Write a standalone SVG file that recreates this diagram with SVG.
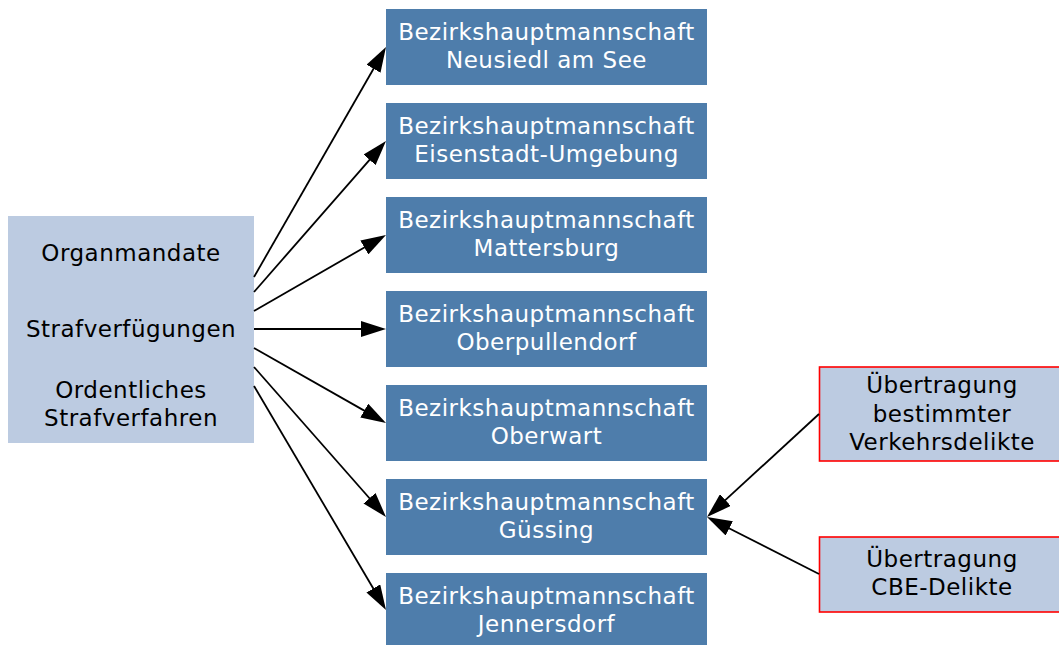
<svg xmlns="http://www.w3.org/2000/svg" width="1059" height="646" viewBox="0 0 1059 646">
<style>
  text { font-family: "DejaVu Sans", Verdana, sans-serif; font-size: 23px; letter-spacing: 0.5px; text-anchor: middle; }
  .dark rect { fill: #4e7dab; }
  .dark text { fill: #ffffff; }
  .light rect { fill: #bccbe1; }
  .light text { fill: #000000; }
  .red rect { fill: #bccbe1; stroke: #ff0000; stroke-width: 1.6; }
  .red text { fill: #000000; }
  .edges line { stroke: #000000; stroke-width: 1.8; fill: none; marker-end: url(#arrow); }
</style>
<defs>
  <marker id="arrow" markerUnits="userSpaceOnUse" viewBox="0 0 25 16" refX="2" refY="8" markerWidth="25" markerHeight="16" orient="auto">
    <path d="M0,0 L25,8 L0,16 z" fill="#000000"/>
  </marker>
</defs>
<rect width="1059" height="646" fill="#ffffff"/>

<g id="src" class="light">
  <rect x="8" y="216" width="246" height="227"/>
  <text x="131" y="261">Organmandate</text>
  <text x="131" y="337">Strafverfügungen</text>
  <text x="131" y="398">Ordentliches</text>
  <text x="131" y="426">Strafverfahren</text>
</g>

<g id="bh-neusiedl" class="dark">
  <rect x="386" y="9" width="321" height="76"/>
  <text x="546.5" y="40">Bezirkshauptmannschaft</text>
  <text x="546.5" y="68">Neusiedl am See</text>
</g>
<g id="bh-eisenstadt" class="dark">
  <rect x="386" y="103" width="321" height="76"/>
  <text x="546.5" y="134">Bezirkshauptmannschaft</text>
  <text x="546.5" y="162">Eisenstadt-Umgebung</text>
</g>
<g id="bh-mattersburg" class="dark">
  <rect x="386" y="197" width="321" height="76"/>
  <text x="546.5" y="228">Bezirkshauptmannschaft</text>
  <text x="546.5" y="256">Mattersburg</text>
</g>
<g id="bh-oberpullendorf" class="dark">
  <rect x="386" y="291" width="321" height="76"/>
  <text x="546.5" y="322">Bezirkshauptmannschaft</text>
  <text x="546.5" y="350">Oberpullendorf</text>
</g>
<g id="bh-oberwart" class="dark">
  <rect x="386" y="385" width="321" height="76"/>
  <text x="546.5" y="416">Bezirkshauptmannschaft</text>
  <text x="546.5" y="444">Oberwart</text>
</g>
<g id="bh-guessing" class="dark">
  <rect x="386" y="479" width="321" height="76"/>
  <text x="546.5" y="510">Bezirkshauptmannschaft</text>
  <text x="546.5" y="538">Güssing</text>
</g>
<g id="bh-jennersdorf" class="dark">
  <rect x="386" y="573" width="321" height="72"/>
  <text x="546.5" y="604">Bezirkshauptmannschaft</text>
  <text x="546.5" y="632">Jennersdorf</text>
</g>

<g id="uebertragung-verkehr" class="red">
  <rect x="819.5" y="367" width="246" height="94"/>
  <text x="942" y="393">Übertragung</text>
  <text x="942" y="422">bestimmter</text>
  <text x="942" y="450">Verkehrsdelikte</text>
</g>
<g id="uebertragung-cbe" class="red">
  <rect x="819.5" y="537" width="246" height="75"/>
  <text x="942" y="567">Übertragung</text>
  <text x="942" y="595">CBE-Delikte</text>
</g>

<g id="connectors" class="edges">
  <line x1="254" y1="277" x2="374.55" y2="66.95"/>
  <line x1="254" y1="292" x2="370.86" y2="158.32"/>
  <line x1="254" y1="311" x2="366.07" y2="246.48"/>
  <line x1="254" y1="329" x2="363" y2="329"/>
  <line x1="254" y1="348" x2="366.0" y2="411.64"/>
  <line x1="254" y1="367" x2="370.81" y2="499.73"/>
  <line x1="254" y1="386" x2="374.32" y2="590.18"/>
  <line x1="819" y1="414" x2="723.93" y2="501.43"/>
  <line x1="819" y1="574" x2="727.49" y2="527.43"/>
</g>
</svg>
